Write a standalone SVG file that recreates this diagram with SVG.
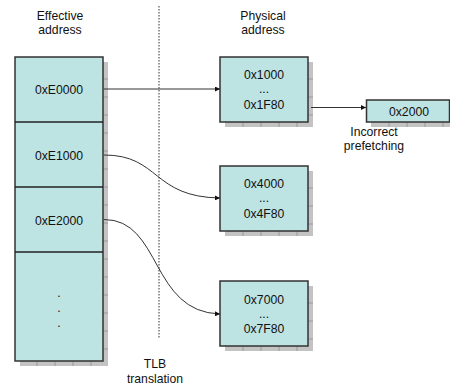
<svg xmlns="http://www.w3.org/2000/svg" width="450" height="387" viewBox="0 0 450 387">
<style>
text{font-family:"Liberation Sans",Arial,sans-serif;font-size:12.2px;fill:#111;text-anchor:middle}
.box{fill:#bde3e3;stroke:#333;stroke-width:1.5}
.sh{fill:#c3c3c3}
.tk{stroke:#9a9a9a;stroke-width:1}
.div{stroke:#222;stroke-width:1.5}
.con{fill:none;stroke:#333;stroke-width:1}
</style>
<defs>
<marker id="ah" viewBox="0 0 10 10" refX="10" refY="5" markerWidth="6" markerHeight="5" markerUnits="userSpaceOnUse" orient="auto">
<path d="M0,0L10,5L0,10z" fill="#111"/>
</marker>
</defs>
<rect width="450" height="387" fill="#fff"/>
<text x="60" y="20">Effective</text>
<text x="60" y="34">address</text>
<text x="263" y="20">Physical</text>
<text x="263" y="34">address</text>
<line x1="159" y1="6" x2="159" y2="339" stroke="#555" stroke-width="1.2" stroke-dasharray="1.5,1.5"/>
<text x="155" y="368">TLB</text>
<text x="155" y="383">translation</text>

<g id="effective">
<rect class="sh" x="20" y="62" width="88" height="304"/>
<path class="tk" d="M37,361V366M55,361V366M73,361V366M91,361V366M103,79H108M103,97H108M103,115H108M103,133H108M103,151H108M103,169H108M103,187H108M103,205H108M103,223H108M103,241H108M103,259H108M103,277H108M103,295H108M103,313H108M103,331H108M103,349H108"/>
<rect class="box" x="15" y="57" width="88" height="304"/>
<line class="div" x1="15" y1="122" x2="103" y2="122"/>
<line class="div" x1="15" y1="187" x2="103" y2="187"/>
<line class="div" x1="15" y1="252" x2="103" y2="252"/>
<text x="59" y="94">0xE0000</text>
<text x="59" y="160">0xE1000</text>
<text x="59" y="225">0xE2000</text>
<text x="59" y="297">.</text>
<text x="59" y="312">.</text>
<text x="59" y="327">.</text>
</g>

<g id="p1">
<rect class="sh" x="225" y="62" width="88" height="65"/>
<path class="tk" d="M243,122V127M261,122V127M279,122V127M297,122V127M308,79H313M308,97H313M308,115H313"/>
<rect class="box" x="220" y="57" width="88" height="65"/>
<text x="264" y="79">0x1000</text>
<text x="264" y="93">...</text>
<text x="264" y="109">0x1F80</text>
</g>

<g id="p2">
<rect class="sh" x="225" y="171" width="88" height="65"/>
<path class="tk" d="M243,231V236M261,231V236M279,231V236M297,231V236M308,188H313M308,206H313M308,224H313"/>
<rect class="box" x="220" y="166" width="88" height="65"/>
<text x="264" y="188">0x4000</text>
<text x="264" y="202">...</text>
<text x="264" y="218">0x4F80</text>
</g>

<g id="p3">
<rect class="sh" x="225" y="286" width="88" height="65"/>
<path class="tk" d="M243,346V351M261,346V351M279,346V351M297,346V351M308,303H313M308,321H313M308,339H313"/>
<rect class="box" x="220" y="281" width="88" height="65"/>
<text x="264" y="304">0x7000</text>
<text x="264" y="318">...</text>
<text x="264" y="333">0x7F80</text>
</g>

<g id="p4">
<rect class="sh" x="371" y="105" width="84" height="22"/>
<path class="tk" d="M389,122V127M407,122V127M425,122V127M443,122V127"/>
<rect class="box" x="366.5" y="100" width="83" height="22"/>
<text x="409" y="116">0x2000</text>
</g>
<text x="374" y="136">Incorrect</text>
<text x="374" y="150">prefetching</text>

<g id="connectors">
<path class="con" d="M104,89H220" marker-end="url(#ah)"/>
<path class="con" d="M104,155C160,155 152,197 220,198" marker-end="url(#ah)"/>
<path class="con" d="M104,219.5C162,219.5 150,312 220,314" marker-end="url(#ah)"/>
<path class="con" d="M311,107.5H366" marker-end="url(#ah)"/>
</g>
</svg>
